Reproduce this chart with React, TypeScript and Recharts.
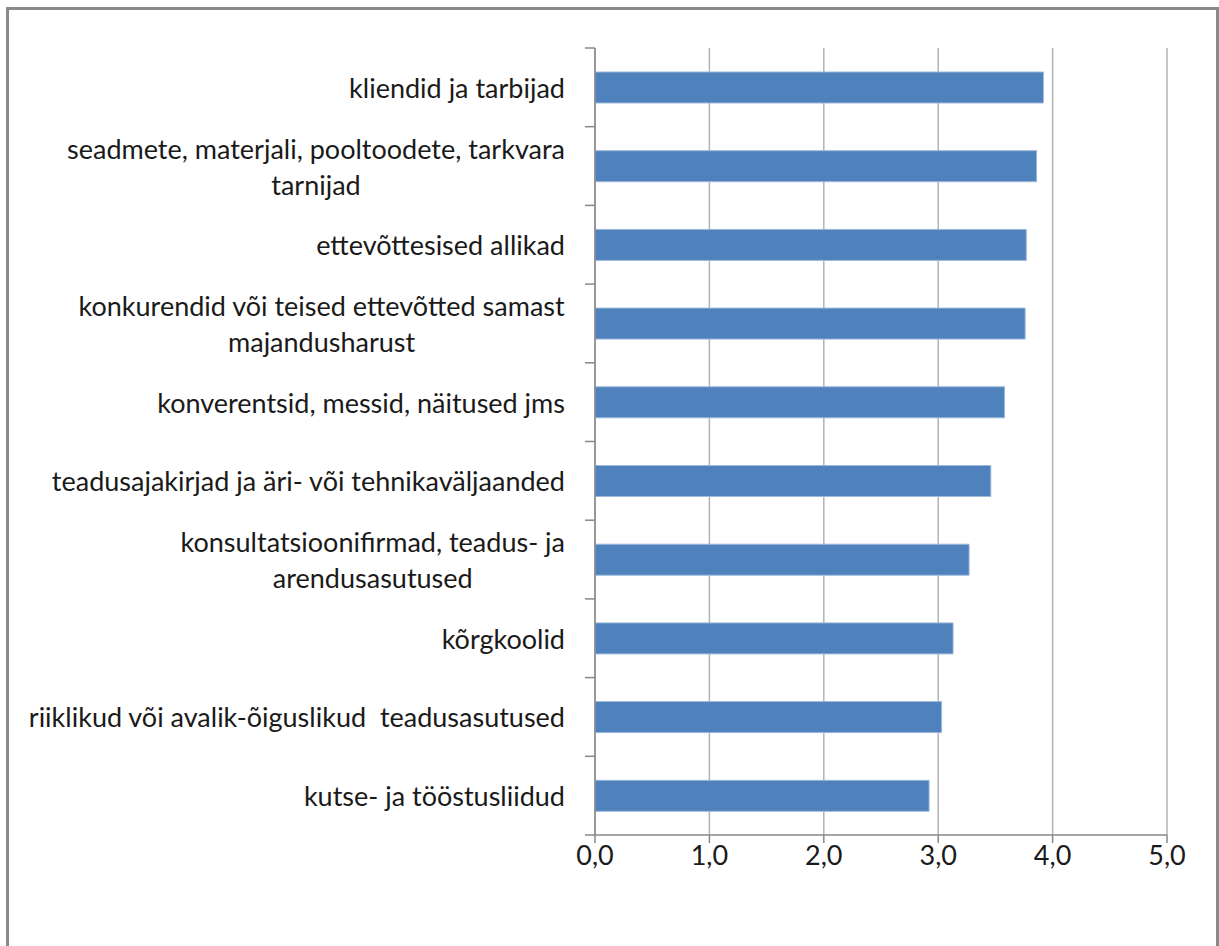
import React from "react";
import { BarChart, Bar, XAxis, YAxis, CartesianGrid } from "recharts";

const categories = [
  "kliendid ja tarbijad",
  "seadmete, materjali, pooltoodete, tarkvara|tarnijad",
  "ettevõttesised allikad",
  "konkurendid või teised ettevõtted samast|majandusharust",
  "konverentsid, messid, näitused jms",
  "teadusajakirjad ja äri- või tehnikaväljaanded",
  "konsultatsioonifirmad, teadus- ja|arendusasutused",
  "kõrgkoolid",
  "riiklikud või avalik-õiguslikud  teadusasutused",
  "kutse- ja tööstusliidud",
];
const values = [3.92, 3.86, 3.77, 3.76, 3.58, 3.46, 3.27, 3.13, 3.03, 2.92];
const xTicks = [0, 1, 2, 3, 4, 5];

const data = categories.map((name, i) => ({ name, value: values[i] }));

const FONT = "Lato";
const FS = 27;
const TEXT_SCALE_Y = 1.0;
const LINE_H = 36;
const TEXT_FILL = "#1a1a1a";

let ctx: CanvasRenderingContext2D | null = null;
function measure(t: string) {
  if (typeof document === "undefined") return t.length * FS * 0.45;
  if (!ctx) ctx = document.createElement("canvas").getContext("2d");
  if (!ctx) return t.length * FS * 0.45;
  ctx.font = `${FS}px ${FONT}`;
  return ctx.measureText(t).width;
}

const CategoryTick = (props: any) => {
  const { x, y, payload, index } = props;
  const off = payload && typeof payload.offset === "number" ? payload.offset : 0;
  const lines = String(payload.value).split("|");
  const isLast = index === categories.length - 1;
  let texts: React.ReactNode;
  if (lines.length === 1) {
    texts = (
      <text
        x={x}
        y={0}
        textAnchor="end"
        dominantBaseline="central"
        transform={`translate(0 ${y}) scale(1 ${TEXT_SCALE_Y})`}
        fontFamily={FONT}
        fontSize={FS}
        fill={TEXT_FILL}
        style={{ whiteSpace: "pre" }}
      >
        {lines[0]}
      </text>
    );
  } else {
    const w = Math.max(...lines.map(measure));
    const cx = x - w / 2;
    texts = lines.map((l, i) => (
      <text
        key={i}
        x={cx}
        y={0}
        textAnchor="middle"
        dominantBaseline="central"
        transform={`translate(0 ${y + (i - (lines.length - 1) / 2) * LINE_H}) scale(1 ${TEXT_SCALE_Y})`}
        fontFamily={FONT}
        fontSize={FS}
        fill={TEXT_FILL}
        style={{ whiteSpace: "pre" }}
      >
        {l}
      </text>
    ));
  }
  return (
    <g>
      {texts}
      <line x1={x + 20} x2={x + 30} y1={y - off} y2={y - off} stroke="#888" strokeWidth={1.5} />
      {isLast && (
        <line x1={x + 20} x2={x + 30} y1={y + off} y2={y + off} stroke="#888" strokeWidth={1.5} />
      )}
    </g>
  );
};

const XTick = (props: any) => {
  const { x, y, payload } = props;
  const label = Number(payload.value).toFixed(1).replace(".", ",");
  return (
    <text
      x={x}
      y={0}
      textAnchor="middle"
      dominantBaseline="central"
      transform={`translate(0 ${y + 9}) scale(1 ${TEXT_SCALE_Y})`}
      fontFamily={FONT}
      fontSize={FS}
      fill={TEXT_FILL}
    >
      {label}
    </text>
  );
};

export default function App() {
  return (
    <div style={{ position: "relative", width: 1219, height: 946, overflow: "hidden", background: "#fff" }}>
      <style>{`body{margin:0;background:#fff}`}</style>
      <div
        style={{
          position: "absolute",
          left: 6,
          top: 7,
          width: 1213,
          height: 960,
          boxSizing: "border-box",
          border: "3px solid #8a8a8a",
        }}
      />
      <div style={{ position: "absolute", left: 0, top: 0 }}>
        <BarChart
          width={1219}
          height={946}
          data={data}
          layout="vertical"
          margin={{ top: 48, right: 52, bottom: 81, left: 0 }}
        >
          <CartesianGrid horizontal={false} vertical={true} stroke="#b3b3b3" strokeWidth={1.5} />
          <XAxis
            type="number"
            domain={[0, 5]}
            ticks={xTicks}
            interval={0}
            height={30}
            axisLine={{ stroke: "#888", strokeWidth: 1.5 }}
            tickLine={{ stroke: "#888", strokeWidth: 1.5 }}
            tickSize={8}
            tick={<XTick />}
          />
          <YAxis
            type="category"
            dataKey="name"
            width={595}
            interval={0}
            axisLine={{ stroke: "#888", strokeWidth: 1.5 }}
            tickLine={false}
            tickSize={10}
            tickMargin={20}
            tick={<CategoryTick />}
          />
          <Bar
            dataKey="value"
            fill="#4F81BD"
            stroke="#9CB8DB"
            strokeWidth={1}
            barSize={31}
            isAnimationActive={false}
          />
        </BarChart>
      </div>
    </div>
  );
}
